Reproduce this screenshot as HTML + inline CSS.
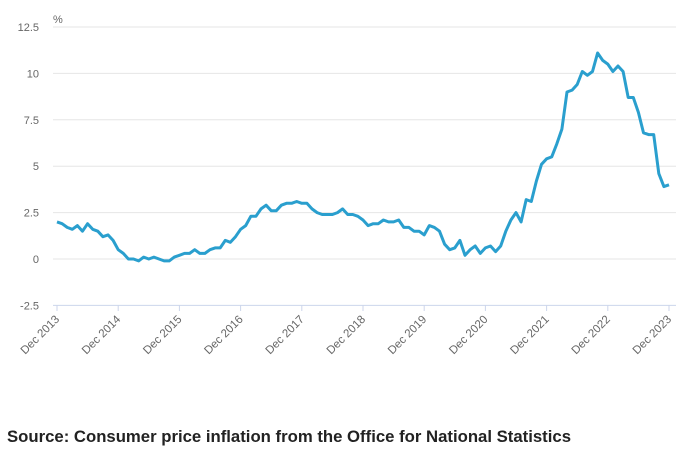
<!DOCTYPE html>
<html><head><meta charset="utf-8"><style>
body{margin:0;background:#fff;width:686px;height:452px;overflow:hidden;font-family:"Liberation Sans",sans-serif}
svg text{font-family:"Liberation Sans",sans-serif}
</style></head><body>
<svg width="686" height="452">
<g id="grid"></g>
<g id="yl"></g>
<g id="xl"></g>
<text x="53" y="23" font-size="11" fill="#666">%</text>
<path id="line" fill="none" stroke="#2a9fce" stroke-width="3" stroke-linejoin="round"/>
<text x="7" y="442" font-size="16.5" font-weight="bold" fill="#222" textLength="564" lengthAdjust="spacingAndGlyphs">Source: Consumer price inflation from the Office for National Statistics</text>
</svg>
<script>
const yTicks=[-2.5,0,2.5,5,7.5,10,12.5];
const yTickLabels=["-2.5","0","2.5","5","7.5","10","12.5"];
const xTickLabels=["Dec 2013","Dec 2014","Dec 2015","Dec 2016","Dec 2017","Dec 2018","Dec 2019","Dec 2020","Dec 2021","Dec 2022","Dec 2023"];
const cpi=[2.0,
1.9,1.7,1.6,1.8,1.5,1.9,1.6,1.5,1.2,1.3,1.0,0.5,
0.3,0.0,0.0,-0.1,0.1,0.0,0.1,0.0,-0.1,-0.1,0.1,0.2,
0.3,0.3,0.5,0.3,0.3,0.5,0.6,0.6,1.0,0.9,1.2,1.6,
1.8,2.3,2.3,2.7,2.9,2.6,2.6,2.9,3.0,3.0,3.1,3.0,
3.0,2.7,2.5,2.4,2.4,2.4,2.5,2.7,2.4,2.4,2.3,2.1,
1.8,1.9,1.9,2.1,2.0,2.0,2.1,1.7,1.7,1.5,1.5,1.3,
1.8,1.7,1.5,0.8,0.5,0.6,1.0,0.2,0.5,0.7,0.3,0.6,
0.7,0.4,0.7,1.5,2.1,2.5,2.0,3.2,3.1,4.2,5.1,5.4,
5.5,6.2,7.0,9.0,9.1,9.4,10.1,9.9,10.1,11.1,10.7,10.5,
10.1,10.4,10.1,8.7,8.7,7.9,6.8,6.7,6.7,4.6,3.9,4.0];
const NS="http://www.w3.org/2000/svg";
const y=v=>259-v*18.56;
const x=i=>57+i*(612/120);
const g=document.getElementById('grid'),yl=document.getElementById('yl'),xl=document.getElementById('xl');
yTicks.forEach((t,k)=>{
 const l=document.createElementNS(NS,'line');
 l.setAttribute('x1',53);l.setAttribute('x2',676);l.setAttribute('y1',y(t));l.setAttribute('y2',y(t));
 l.setAttribute('stroke',t===-2.5?'#ccd6eb':'#e6e6e6');l.setAttribute('stroke-width',1);
 
 
 g.appendChild(l);
 const tx=document.createElementNS(NS,'text');
 tx.setAttribute('x',39);tx.setAttribute('y',y(t)+4);tx.setAttribute('text-anchor','end');
 tx.setAttribute('font-size','11');tx.setAttribute('fill','#666');tx.textContent=yTickLabels[k];
 
 
 yl.appendChild(tx);
});
xTickLabels.forEach((s,k)=>{
 const px=x(k*12);
 const l=document.createElementNS(NS,'line');
 l.setAttribute('x1',px);l.setAttribute('x2',px);l.setAttribute('y1',305);l.setAttribute('y2',311);
 l.setAttribute('stroke','#ccd6eb');
 
 
 g.appendChild(l);
 const tx=document.createElementNS(NS,'text');
 tx.setAttribute('transform',`translate(${px+3},${320}) rotate(-45)`);
 tx.setAttribute('text-anchor','end');tx.setAttribute('font-size','11.5');tx.setAttribute('fill','#666');
 tx.textContent=s;
 
 
 xl.appendChild(tx);
});
document.getElementById('line').setAttribute('d',cpi.map((v,i)=>(i?'L':'M')+x(i).toFixed(1)+' '+y(v).toFixed(1)).join(''));
</script>
</body></html>
